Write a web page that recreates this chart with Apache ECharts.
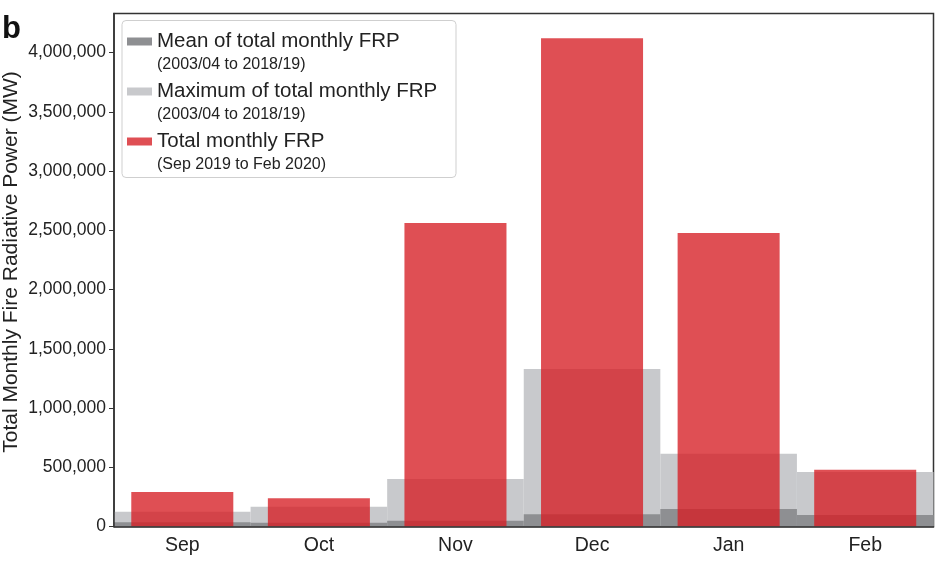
<!DOCTYPE html>
<html>
<head>
<meta charset="utf-8">
<script src="https://cdn.jsdelivr.net/npm/echarts@6/dist/echarts.min.js"></script>
<style>
  html, body { margin: 0; padding: 0; background: #fff; }
  #myChart { width: 941px; height: 564px; }
</style>
</head>
<body>
<div id="myChart"></div>
<script>
// months Sep 2019 .. Feb 2020
const months = ['Sep', 'Oct', 'Nov', 'Dec', 'Jan', 'Feb']
// mean / max of total monthly FRP 2003/04 - 2018/19 (MW)
const meanFrp = [35000, 32000, 49000, 103000, 148000, 97000]
const maxFrp = [125000, 167000, 401000, 1329000, 614000, 460000]
// total monthly FRP Sep 2019 - Feb 2020 (MW)
const totalFrp = [291000, 238000, 2561000, 4122000, 2477000, 479000]
const yTicks = [0, 500000, 1000000, 1500000, 2000000, 2500000, 3000000, 3500000, 4000000]
const seriesNames = ['Mean of total monthly FRP', 'Maximum of total monthly FRP', 'Total monthly FRP']
const seriesPeriods = ['(2003/04 to 2018/19)', '(2003/04 to 2018/19)', '(Sep 2019 to Feb 2020)']

const font = 'Liberation Sans'

let option = {
  animation: false,
  textStyle: { fontFamily: font },
  graphic: [
    {
      type: 'text',
      left: 2,
      top: 14,
      style: { text: 'b', font: 'bold 31px "Liberation Sans"', fill: '#111' }
    },
    {
      // legend frame
      type: 'rect',
      shape: { x: 122, y: 20.5, width: 334, height: 157, r: 4 },
      style: { fill: '#fff', stroke: '#cfcfcf', lineWidth: 1 },
      z: 1
    }
  ],
  legend: {
    orient: 'vertical',
    left: 127,
    top: 11,
    padding: 0,
    itemWidth: 25,
    itemHeight: 8,
    itemGap: -11.5,
    icon: 'rect',
    z: 5,
    data: seriesNames,
    formatter: function (name) {
      let i = seriesNames.indexOf(name)
      return '{sp| }\n{a|' + name + '}\n{b|' + seriesPeriods[i] + '}'
    },
    textStyle: {
      color: '#222',
      rich: {
        sp: { fontSize: 15, lineHeight: 20, fontFamily: font },
        a: { fontSize: 20.5, lineHeight: 26, fontFamily: font, color: '#222' },
        b: { fontSize: 16, lineHeight: 20, fontFamily: font, color: '#222' }
      }
    }
  },
  grid: {
    left: 114,
    right: 7.5,
    top: 13.5,
    bottom: 37.5,
    outerBoundsMode: 'none',
    containLabel: false,
    show: true,
    borderColor: '#333',
    borderWidth: 1.5,
    backgroundColor: 'transparent'
  },
  xAxis: [
    {
      type: 'category',
      data: months,
      z: 10,
      axisLine: { lineStyle: { color: '#333', width: 1.5 } },
      axisTick: { alignWithLabel: true, length: 5, lineStyle: { color: '#333' } },
      axisLabel: { color: '#222', fontSize: 19.5, margin: 9, fontFamily: font }
    },
    {
      type: 'category',
      data: months,
      show: false
    }
  ],
  yAxis: {
    type: 'value',
    min: 0,
    max: 4330000,
    z: 10,
    name: 'Total Monthly Fire Radiative Power (MW)',
    nameLocation: 'middle',
    nameGap: 92,
    nameMoveOverlap: false,
    nameTextStyle: { color: '#222', fontSize: 21, fontFamily: font, padding: [0, 0, 0, 16] },
    splitLine: { show: false },
    axisLine: { show: true, lineStyle: { color: '#333', width: 1.5 } },
    axisTick: { show: true, length: 5, customValues: yTicks, lineStyle: { color: '#333' } },
    axisLabel: {
      color: '#222',
      fontSize: 17.5,
      margin: 8,
      fontFamily: font,
      customValues: yTicks,
      formatter: function (v) {
        return v.toLocaleString('en-US')
      }
    }
  },
  series: [
    {
      name: seriesNames[1],
      type: 'bar',
      xAxisIndex: 0,
      barWidth: '100%',
      barGap: '-100%',
      itemStyle: { color: '#c8c9cc' },
      z: 2,
      data: maxFrp
    },
    {
      name: seriesNames[0],
      type: 'bar',
      xAxisIndex: 0,
      barWidth: '100%',
      barGap: '-100%',
      itemStyle: { color: '#8e8f92' },
      z: 3,
      data: meanFrp
    },
    {
      name: seriesNames[2],
      type: 'bar',
      xAxisIndex: 1,
      barWidth: '74.7%',
      itemStyle: { color: 'rgba(214,30,36,0.78)' },
      z: 4,
      data: totalFrp
    }
  ]
}

let myChart = echarts.init(document.getElementById('myChart'))
myChart.setOption(option)
</script>
</body>
</html>
